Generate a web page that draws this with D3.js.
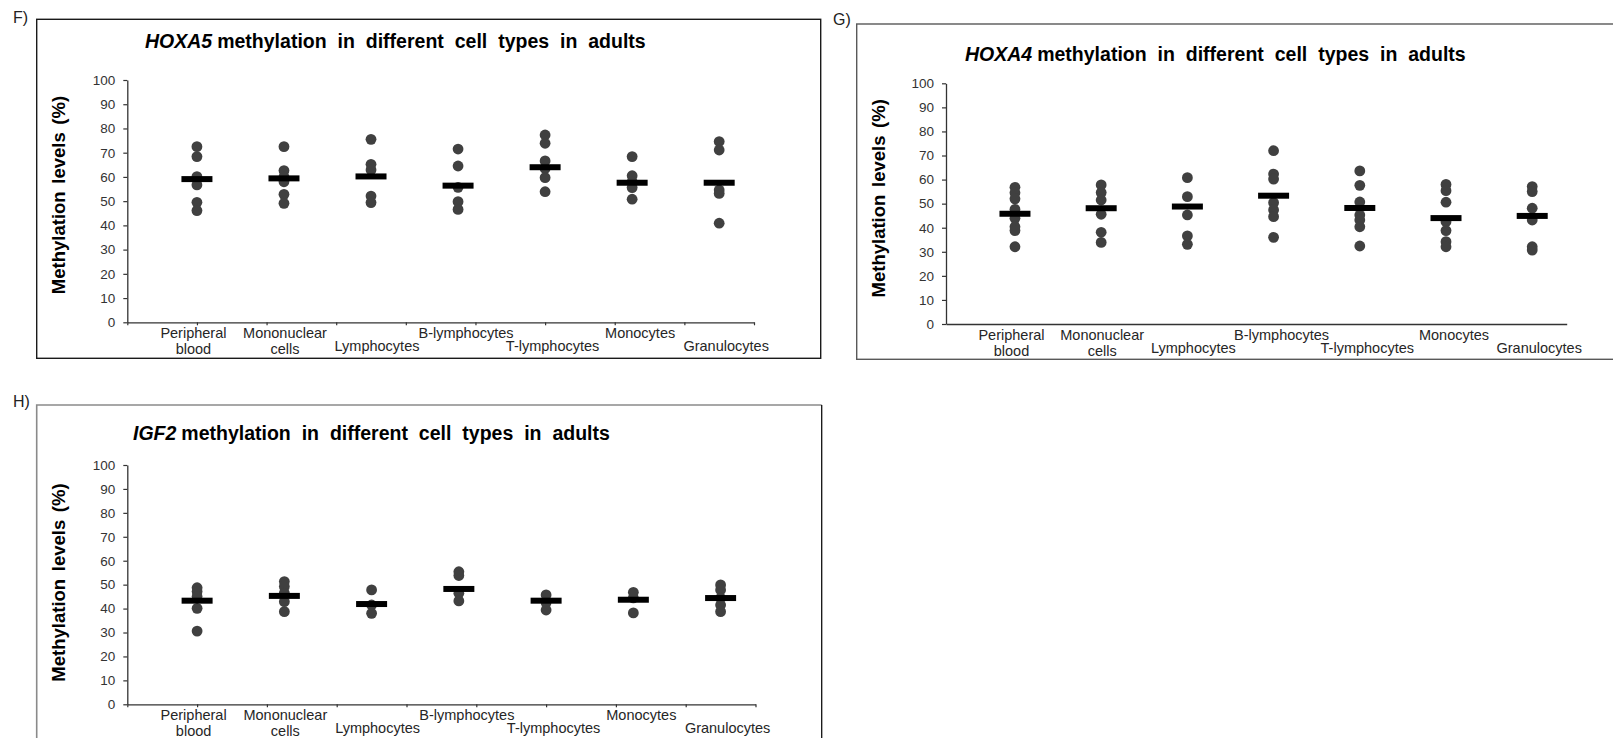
<!DOCTYPE html>
<html>
<head>
<meta charset="utf-8">
<script src="https://cdn.jsdelivr.net/npm/d3@7"></script>
<style>
  html, body { margin: 0; padding: 0; background: #fff; }
  svg { display: block; font-family: "Liberation Sans", Arial, sans-serif; }
</style>
</head>
<body>
<svg id="chart" width="1613" height="738"></svg>
<script>
// Cell types on the x axis (two-line labels split with "\n")
const categories = ["Peripheral\nblood", "Mononuclear\ncells", "Lymphocytes", "B-lymphocytes",
                    "T-lymphocytes", "Monocytes", "Granulocytes"];
const yTicks = [0, 10, 20, 30, 40, 50, 60, 70, 80, 90, 100];
const yTitle = "Methylation levels (%)";

// HOXA5 methylation (%) per individual, by cell type
const hoxa5Values = [
  [72.5, 68.4, 60.1, 56.7, 49.5, 46.1],
  [72.5, 62.6, 60.0, 58.0, 52.8, 49.1],
  [75.5, 65.2, 62.9, 52.1, 49.4],
  [71.5, 64.5, 55.7, 49.8, 46.6],
  [77.3, 73.9, 66.6, 63.5, 59.7, 53.9],
  [68.4, 60.5, 58.0, 55.6, 50.8],
  [74.6, 71.1, 54.6, 53.2, 40.9]
];
const hoxa5Means = [59.1, 59.4, 60.2, 56.4, 64.0, 57.6, 57.6];

// HOXA4 methylation (%)
const hoxa4Values = [
  [56.8, 54.5, 52.0, 47.6, 43.9, 40.4, 38.8, 32.1],
  [57.8, 54.6, 51.5, 45.6, 38.1, 33.9],
  [60.8, 52.9, 45.3, 36.6, 33.1],
  [72.0, 62.3, 60.2, 50.4, 47.4, 44.6, 36.0],
  [63.6, 57.6, 50.7, 45.3, 43.2, 40.4, 32.4],
  [58.0, 55.4, 50.6, 42.5, 38.8, 34.2, 32.1],
  [57.1, 55.0, 48.1, 43.2, 32.1, 30.7]
];
const hoxa4Means = [45.8, 48.1, 48.8, 53.3, 48.2, 44.0, 44.9];

// IGF2 methylation (%)
const igf2Values = [
  [48.7, 47.1, 45.0, 40.1, 30.6],
  [51.3, 49.2, 46.5, 42.9, 38.7],
  [47.8, 41.5, 38.0],
  [55.4, 53.8, 46.4, 43.2],
  [45.7, 42.5, 39.4],
  [46.8, 44.5, 38.2],
  [49.9, 47.8, 44.4, 41.5, 38.7]
];
const igf2Means = [43.3, 45.3, 41.9, 48.2, 43.3, 43.7, 44.4];

// Label layout: horizontal nudge and row (0 = upper, 1 = lower) for each cell type
const labelDx = [-3.5, 1, 6, 8, 7.5, 8, 7];
const labelRow = [0, 0, 1, 0, 1, 0, 1];

const panels = [
  { letter: "F)", letterPos: [13, 22.5], gene: "HOXA5", values: hoxa5Values, means: hoxa5Means,
    frame: { x0: 36.7, y0: 19.3, x1: 820.7, y1: 358.3, color: "#1a1a1a", sides: null },
    plot: { x0: 127.3, x1: 754, y0: 322.3, y1: 80 },
    titlePos: [145, 48.3], yTitlePos: [64.5, 195], xTicks: true },
  { letter: "G)", letterPos: [833, 25], gene: "HOXA4", values: hoxa4Values, means: hoxa4Means,
    frame: { x0: 856.7, y0: 24, x1: 1625, y1: 359.3, color: "#595959", sides: null },
    plot: { x0: 946, x1: 1566.7, y0: 324, y1: 83.3 },
    titlePos: [965, 61], yTitlePos: [884.5, 198.3], xTicks: false },
  { letter: "H)", letterPos: [13, 406.5], gene: "IGF2", values: igf2Values, means: igf2Means,
    frame: { x0: 36.7, y0: 405, x1: 821.7, y1: 760, color: "#8a8a8a", sides: "open" },
    plot: { x0: 127.3, x1: 755.5, y0: 704.3, y1: 465 },
    titlePos: [133, 440], yTitlePos: [64.5, 582.5], xTicks: true }
];

const svg = d3.select("#chart");

panels.forEach(p => {
  const g = svg.append("g");

  // panel frame
  const f = p.frame;
  if (p.frame.sides === "open") {
    g.append("path")
      .attr("d", `M${f.x0},${f.y1}V${f.y0}H${f.x1}`)
      .attr("fill", "none").attr("stroke", f.color).attr("stroke-width", 1.6);
    g.append("path")
      .attr("d", `M${f.x1},${f.y0}V${f.y1}`)
      .attr("fill", "none").attr("stroke", "#111").attr("stroke-width", 1.3);
  } else {
    g.append("rect")
      .attr("x", f.x0).attr("y", f.y0)
      .attr("width", f.x1 - f.x0).attr("height", f.y1 - f.y0)
      .attr("fill", "none").attr("stroke", f.color).attr("stroke-width", 1.4);
  }

  // panel letter
  g.append("text")
    .attr("x", p.letterPos[0]).attr("y", p.letterPos[1])
    .attr("font-size", 16).attr("fill", "#222")
    .text(p.letter);

  // scales: linear x from 0 to 9, categories placed from 1 to 8.5
  const xLin = d3.scaleLinear().domain([0, 9]).range([p.plot.x0, p.plot.x1]);
  const x = d3.scalePoint().domain(categories).range([xLin(1), xLin(8.5)]);
  const y = d3.scaleLinear().domain([0, 100]).range([p.plot.y0, p.plot.y1]);

  // y axis
  const ya = g.append("g")
    .attr("transform", `translate(${p.plot.x0},0)`)
    .call(d3.axisLeft(y).tickValues(yTicks).tickSize(4).tickSizeOuter(0).tickPadding(8));
  ya.select(".domain").attr("stroke", "#333").attr("stroke-width", 1.3);
  ya.selectAll(".tick line").attr("stroke", "#333").attr("stroke-width", 1.2);
  ya.selectAll(".tick text")
    .attr("font-family", "Liberation Sans, Arial, sans-serif")
    .attr("font-size", 13.5).attr("fill", "#333");

  // x axis (tick marks only)
  const xa = g.append("g")
    .attr("transform", `translate(0,${p.plot.y0})`)
    .call(d3.axisBottom(xLin).tickValues(d3.range(0, 10))
      .tickSize(p.xTicks ? 3 : 0).tickSizeOuter(0).tickFormat(""));
  xa.select(".domain").attr("stroke", "#333").attr("stroke-width", 1.3);
  xa.selectAll(".tick line").attr("stroke", "#333").attr("stroke-width", 1.2);

  // category labels, staggered in two rows
  categories.forEach((c, i) => {
    const lines = c.split("\n");
    const base = p.plot.y0 + (labelRow[i] === 0 ? 16 : 28.5);
    const t = g.append("text")
      .attr("x", x(c) + labelDx[i]).attr("y", base)
      .attr("text-anchor", "middle")
      .attr("font-size", 14.5).attr("fill", "#262626");
    lines.forEach((ln, k) => {
      t.append("tspan")
        .attr("x", x(c) + labelDx[i])
        .attr("dy", k === 0 ? 0 : 15.5)
        .text(ln);
    });
  });

  // individual values
  const pts = [];
  p.values.forEach((vals, i) => vals.forEach(v => pts.push({ c: categories[i], v })));
  g.append("g").selectAll("circle")
    .data(pts).join("circle")
    .attr("cx", d => x(d.c)).attr("cy", d => y(d.v))
    .attr("r", 5.4).attr("fill", "#404040");

  // group mean bars
  g.append("g").selectAll("rect")
    .data(p.means.map((m, i) => ({ c: categories[i], m })))
    .join("rect")
    .attr("x", d => x(d.c) - 15.5).attr("y", d => y(d.m) - 3)
    .attr("width", 31).attr("height", 6)
    .attr("fill", "#000");

  // title
  const title = g.append("text")
    .attr("x", p.titlePos[0]).attr("y", p.titlePos[1])
    .attr("font-size", 19.5).attr("font-weight", "bold").attr("fill", "#000")
    .attr("word-spacing", 5.5);
  title.append("tspan").attr("font-style", "italic").text(p.gene);
  title.append("tspan").attr("dx", 5).text("methylation in different cell types in adults");

  // y axis title
  g.append("text")
    .attr("transform", `translate(${p.yTitlePos[0]},${p.yTitlePos[1]}) rotate(-90)`)
    .attr("text-anchor", "middle")
    .attr("font-size", 18.5).attr("font-weight", "bold").attr("fill", "#000")
    .attr("word-spacing", 2.5)
    .text(yTitle);
});
</script>
</body>
</html>
